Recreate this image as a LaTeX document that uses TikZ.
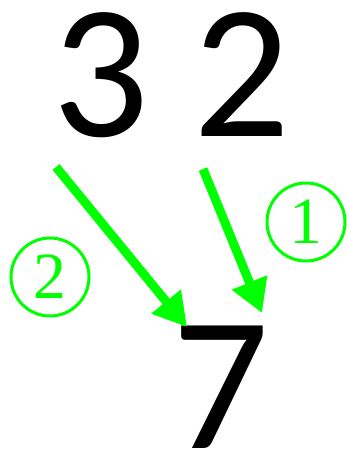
\documentclass[tikz,border=0pt]{standalone}
\usepackage{fontspec}
\setmainfont{Carlito}
\newfontfamily\circfont{Liberation Serif}
\usepackage{xcolor}
\usepackage{tikz}
\usetikzlibrary{positioning,arrows.meta,calc}
\definecolor{stepgreen}{HTML}{00FF00}
\definecolor{digitink}{HTML}{000000}
\tikzset{
    bigdigit/.style={
        inner sep=0pt, anchor=base west, text=digitink,
        text height=122pt, text depth=0pt,
        font=\fontsize{191}{191}\selectfont
    },
    stepmark/.style={
        circle, draw=stepgreen, line width=3pt, text=stepgreen,
        minimum size=78pt, inner sep=0pt,
        font=\circfont\fontsize{66}{66}\selectfont
    },
    carry/.style={-{Triangle[length=33pt,width=36pt]}, line width=9pt, color=stepgreen},
}
\begin{document}
\begin{tikzpicture}[x=1pt, y=-1pt]
        \useasboundingbox (0,0) rectangle (347,450);
        \node[bigdigit] (d3) at (52,136) {3};
        \node[bigdigit] (d2) at (193,136) {2};
        \node[bigdigit] (d7) at (172,448) {7};
        \node[stepmark] (m1) at (306,222) {1};
        \node[stepmark] (m2) at (50,277) {2};
        \coordinate (s2) at (56,167);
        \coordinate (e2) at (187,327);
        \coordinate (s1) at (203,169);
        \coordinate (e1) at (262,313);
        \draw[carry] (s2) -- (e2);
        \draw[carry] (s1) -- (e1);
    \end{tikzpicture}
\end{document}
